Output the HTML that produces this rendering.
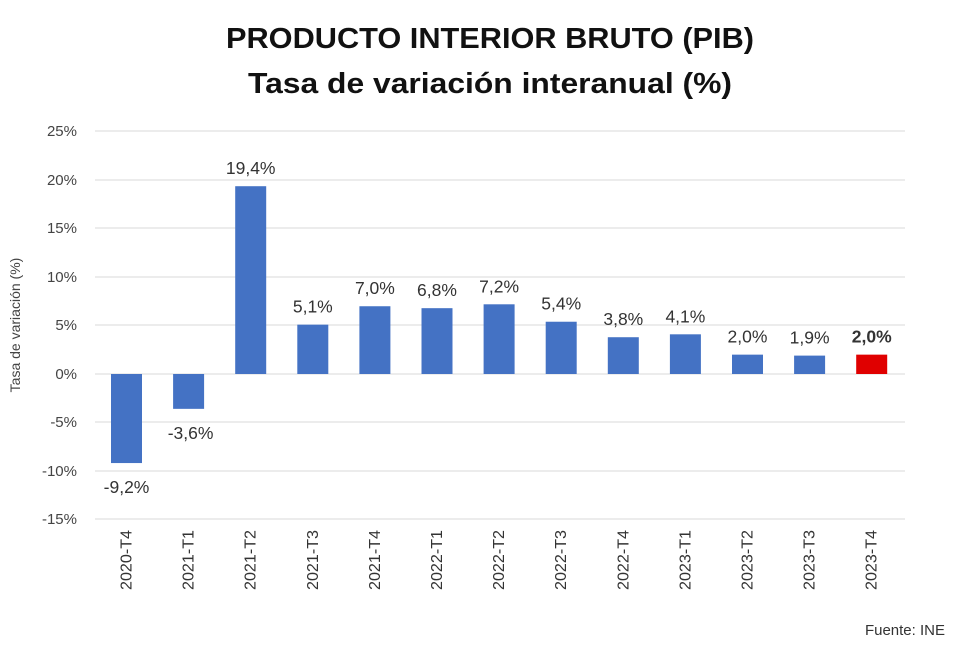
<!DOCTYPE html>
<html><head><meta charset="utf-8"><style>
body{margin:0;background:#fff;}
svg text{font-family:"Liberation Sans",sans-serif;}
</style></head><body>
<svg width="980" height="647" viewBox="0 0 980 647" xmlns="http://www.w3.org/2000/svg">
<rect width="980" height="647" fill="#fff"/>
<text x="490" y="48" text-anchor="middle" font-size="29" font-weight="bold" fill="#111" textLength="528" lengthAdjust="spacingAndGlyphs">PRODUCTO INTERIOR BRUTO (PIB)</text>
<text x="490" y="93" text-anchor="middle" font-size="29" font-weight="bold" fill="#111" textLength="484" lengthAdjust="spacingAndGlyphs">Tasa de variación interanual (%)</text>
<g stroke="#d9d9d9" stroke-width="1">
<line x1="95" x2="905" y1="131" y2="131"/><line x1="95" x2="905" y1="180" y2="180"/>
<line x1="95" x2="905" y1="228" y2="228"/><line x1="95" x2="905" y1="277" y2="277"/>
<line x1="95" x2="905" y1="325" y2="325"/><line x1="95" x2="905" y1="374" y2="374"/>
<line x1="95" x2="905" y1="422" y2="422"/><line x1="95" x2="905" y1="471" y2="471"/>
<line x1="95" x2="905" y1="519" y2="519"/>
</g>
<g font-size="15" fill="#444" text-anchor="end">
<text x="77" y="136">25%</text><text x="77" y="185">20%</text><text x="77" y="233">15%</text>
<text x="77" y="282">10%</text><text x="77" y="330">5%</text><text x="77" y="379">0%</text>
<text x="77" y="427">-5%</text><text x="77" y="476">-10%</text><text x="77" y="524">-15%</text>
</g>
<text transform="translate(20,325) rotate(-90)" text-anchor="middle" font-size="14" fill="#444">Tasa de variación (%)</text>
<g id="bars" fill="#4472c4"></g>
<g id="lbl" font-size="17.5" fill="#333" text-anchor="middle"></g>
<g id="cat" font-size="15.5" fill="#333" text-anchor="end"></g>
<text x="945" y="635" text-anchor="end" font-size="15" fill="#333">Fuente: INE</text>
<script>
var d=[["2020-T4",-9.2],["2021-T1",-3.6],["2021-T2",19.4],["2021-T3",5.1],["2021-T4",7.0],["2022-T1",6.8],["2022-T2",7.2],["2022-T3",5.4],["2022-T4",3.8],["2023-T1",4.1],["2023-T2",2.0],["2023-T3",1.9],["2023-T4",2.0]];
var ns="http://www.w3.org/2000/svg",b=document.getElementById("bars"),l=document.getElementById("lbl"),c=document.getElementById("cat");
d.forEach(function(e,i){var cx=126.5+i*62.1,v=e[1],y0=374,y1=374-v*9.68;
var r=document.createElementNS(ns,"rect");r.setAttribute("x",cx-15.5);r.setAttribute("width",31);
r.setAttribute("y",Math.min(y0,y1));r.setAttribute("height",Math.abs(y1-y0));
if(i==12)r.setAttribute("fill","#e00000");b.appendChild(r);
var t=document.createElementNS(ns,"text");t.setAttribute("x",cx);
t.setAttribute("y",v<0?y1+30:y1-12);t.textContent=v.toFixed(1).replace(".",",")+"%";
if(i==12){t.setAttribute("font-weight","bold");}
if(v<0&&i==1){t.setAttribute("x",cx+2);}
l.appendChild(t);
var k=document.createElementNS(ns,"text");k.setAttribute("transform","translate("+(cx+5)+",530) rotate(-90)");
k.setAttribute("textLength","60");k.setAttribute("lengthAdjust","spacingAndGlyphs");
k.textContent=e[0];c.appendChild(k);});
</script>
</svg>
</body></html>
